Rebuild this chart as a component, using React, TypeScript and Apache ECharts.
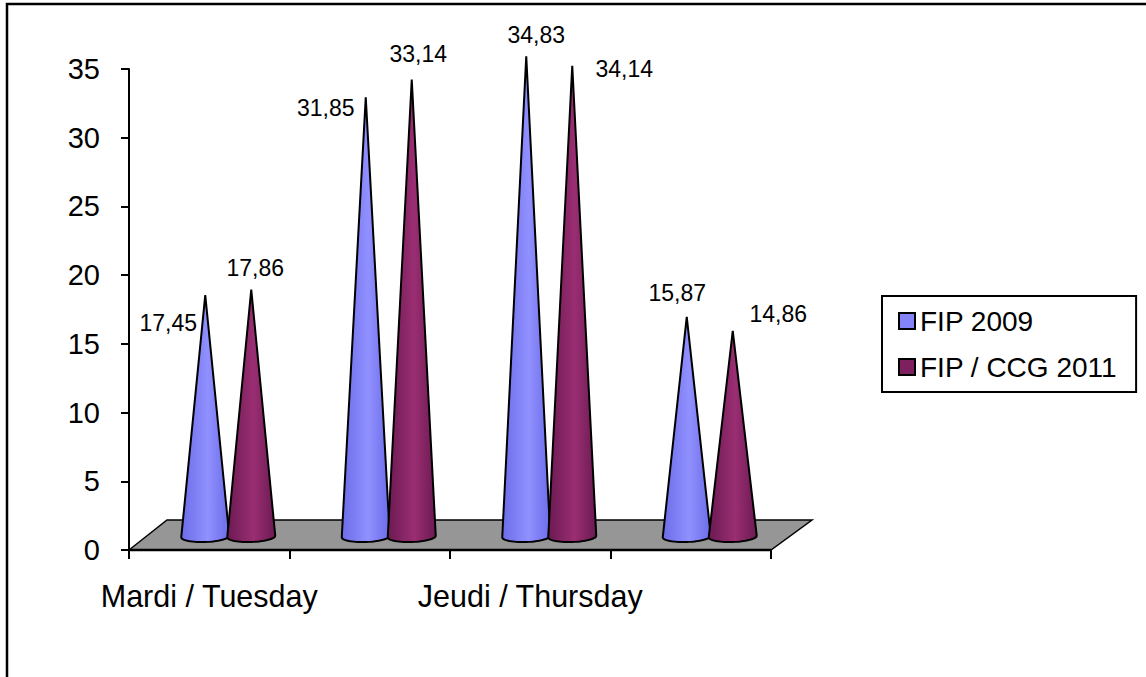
import React, { useEffect, useRef } from "react";
import * as echarts from "echarts";

const categories = ["Mardi / Tuesday", "", "Jeudi / Thursday", ""];
const fip2009 = [17.45, 31.85, 34.83, 15.87];
const fipCcg2011 = [17.86, 33.14, 34.14, 14.86];
const seriesNames = ["FIP 2009", "FIP / CCG 2011"];

const FONT = '"Liberation Sans", Arial, sans-serif';
const DEPTH_X = 38;
const DEPTH_Y = 30;
const CONE_HALF = 24;
const CONE_SHIFT = 23;
// label centre offset from each cone's apex, per series then per category
const labelOffsets = [
  [[-37, 28], [-40, 11], [10, -21], [-9.5, -24]],
  [[4, -22], [6.5, -26], [52, 3], [45.5, -17]],
];

const fmt = (v: number) => v.toFixed(2).replace(".", ",");

function coneItem(side: number, colors: string[], offsets: number[][]) {
  return (params: any, api: any) => {
    const i = api.value(0);
    const v = api.value(1);
    const base = api.coord([i, 0]);
    const top = api.coord([i, v]);
    const cx = base[0] + DEPTH_X / 2 + side * CONE_SHIFT;
    const by = base[1] - DEPTH_Y / 2;
    const ay = top[1] - DEPTH_Y / 2;
    const pts: number[][] = [[cx, ay]];
    const steps = 28;
    for (let k = 0; k <= steps; k++) {
      const t = Math.PI - (Math.PI * k) / steps;
      const ex = Math.cos(t) * CONE_HALF;
      const ey = Math.sin(t) * 5.5;
      pts.push([cx + ex, by + 1.5 + ey - (ex / CONE_HALF) * 0.8]);
    }
    const fill = new echarts.graphic.LinearGradient(0, 0, 1, 0, [
      { offset: 0, color: colors[0] },
      { offset: 0.55, color: colors[1] },
      { offset: 1, color: colors[0] },
    ]);
    const off = offsets[i];
    return {
      type: "group",
      children: [
        {
          type: "polygon",
          shape: { points: pts },
          style: { fill, stroke: "#000", lineWidth: 2, lineJoin: "miter" },
        },
        {
          type: "text",
          x: cx + off[0],
          y: ay + off[1],
          style: {
            text: fmt(v),
            fill: "#000",
            font: `23px ${FONT}`,
            align: "center",
            verticalAlign: "middle",
          },
        },
      ],
    };
  };
}

function floorItem(params: any, api: any) {
  const r = params.coordSys;
  const x0 = r.x;
  const x1 = r.x + r.width;
  const y0 = r.y + r.height;
  return {
    type: "group",
    children: [
      {
        type: "polygon",
        shape: {
          points: [
            [x0, y0],
            [x0 + DEPTH_X, y0 - DEPTH_Y],
            [x1 + DEPTH_X + 3, y0 - DEPTH_Y],
            [x1, y0],
          ],
        },
        style: { fill: "#969696", stroke: "#000", lineWidth: 1.5 },
      },
      {
        type: "line",
        shape: { x1: x0, y1: y0, x2: x1, y2: y0 },
        style: { stroke: "#000", lineWidth: 2.5 },
      },
    ],
  };
}

export default function App() {
  const ref = useRef<HTMLDivElement>(null);
  useEffect(() => {
    const chart = echarts.init(ref.current!, null, { renderer: "svg" });
    chart.setOption({
      animation: false,
      backgroundColor: "#fff",
      textStyle: { fontFamily: FONT },
      grid: { left: 129, top: 69, width: 642, height: 481, containLabel: false },
      legend: {
        orient: "vertical",
        left: 882,
        top: 296,
        data: seriesNames,
        icon: "rect",
        itemWidth: 16,
        itemHeight: 16,
        itemGap: 18,
        padding: [11, 19, 11, 16],
        borderColor: "#000",
        borderWidth: 2,
        textStyle: { fontFamily: FONT, fontSize: 28, color: "#000" },
      },
      xAxis: {
        type: "category",
        data: categories,
        boundaryGap: true,
        axisLine: { lineStyle: { color: "#000", width: 2 } },
        axisTick: { show: true, interval: 0, alignWithLabel: false, length: 9, lineStyle: { color: "#000", width: 2 } },
        axisLabel: { interval: 0, margin: 30, color: "#000", fontFamily: FONT, fontSize: 30.5 },
      },
      yAxis: {
        type: "value",
        min: 0,
        max: 35,
        interval: 5,
        splitLine: { show: false },
        axisLine: { show: true, lineStyle: { color: "#000", width: 2 } },
        axisTick: { show: true, length: 8, lineStyle: { color: "#000", width: 2 } },
        axisLabel: { margin: 29, color: "#000", fontFamily: FONT, fontSize: 29 },
      },
      series: [
        {
          type: "custom",
          name: "floor",
          coordinateSystem: "cartesian2d",
          renderItem: floorItem,
          data: [[0, 0]],
          silent: true,
          z: 1,
        },
        {
          type: "custom",
          name: seriesNames[0],
          coordinateSystem: "cartesian2d",
          renderItem: coneItem(-1, ["#6c6ce8", "#9090ff"], labelOffsets[0]),
          itemStyle: { color: "#8484f8", borderColor: "#000", borderWidth: 2 },
          encode: { x: 0, y: 1 },
          data: fip2009.map((v, i) => [i, v]),
          z: 3,
        },
        {
          type: "custom",
          name: seriesNames[1],
          coordinateSystem: "cartesian2d",
          renderItem: coneItem(1, ["#6b1a52", "#9a2e72"], labelOffsets[1]),
          itemStyle: { color: "#7e1f5e", borderColor: "#000", borderWidth: 2 },
          encode: { x: 0, y: 1 },
          data: fipCcg2011.map((v, i) => [i, v]),
          z: 4,
        },
      ],
      graphic: [
        {
          type: "polyline",
          shape: { points: [[7, 677], [7, 4], [1146, 4]] },
          style: { stroke: "#000", lineWidth: 2.5, fill: "none" },
          silent: true,
        },
      ],
    });
    return () => chart.dispose();
  }, []);
  return <div ref={ref} style={{ position: "fixed", left: 0, top: 0, width: 1146, height: 677 }} />;
}
